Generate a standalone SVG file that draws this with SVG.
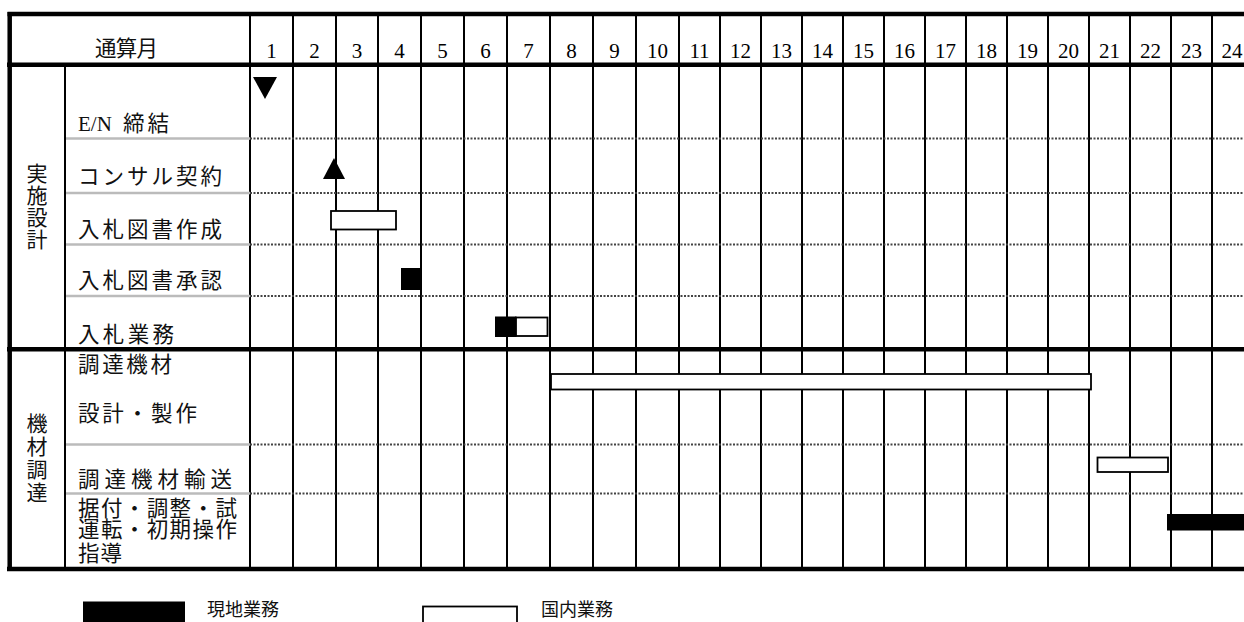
<svg xmlns="http://www.w3.org/2000/svg" width="1244" height="622" viewBox="0 0 1244 622">
<style>
.thick{stroke:#000;stroke-width:4.5;fill:none}
.vl{stroke:#000;stroke-width:2;fill:none}
.gl{stroke:#bbb;stroke-width:2.5;fill:none}
.dl{stroke:#444;stroke-width:2;stroke-dasharray:2 1.5;fill:none}
.num{font-family:"Liberation Serif","Times New Roman",serif;font-size:21px;text-anchor:middle;fill:#000}
.lab{font-family:"Noto Sans CJK JP","Noto Sans",sans-serif;font-size:21.5px;fill:#111}
.sec{font-family:"Noto Sans CJK JP","Noto Sans",sans-serif;font-size:21px;fill:#111;writing-mode:vertical-rl;text-orientation:upright}
.leg{font-family:"Noto Sans CJK JP","Noto Sans",sans-serif;font-size:18px;fill:#111}
.wbar{fill:#fff;stroke:#000;stroke-width:1.8}
.bbar{fill:#000;stroke:#000;stroke-width:1}
</style>
<rect x="0" y="0" width="1244" height="622" fill="#fff"/>
<g id="grid">
  <g id="verticals">
    <line class="vl" x1="65" y1="64" x2="65" y2="569"/>
    <line class="vl" x1="250" y1="14" x2="250" y2="569"/>
    <line class="vl" x1="293" y1="14" x2="293" y2="569"/>
    <line class="vl" x1="336" y1="14" x2="336" y2="569"/>
    <line class="vl" x1="378" y1="14" x2="378" y2="569"/>
    <line class="vl" x1="421" y1="14" x2="421" y2="569"/>
    <line class="vl" x1="464" y1="14" x2="464" y2="569"/>
    <line class="vl" x1="507" y1="14" x2="507" y2="569"/>
    <line class="vl" x1="550" y1="14" x2="550" y2="569"/>
    <line class="vl" x1="593" y1="14" x2="593" y2="569"/>
    <line class="vl" x1="636" y1="14" x2="636" y2="569"/>
    <line class="vl" x1="679" y1="14" x2="679" y2="569"/>
    <line class="vl" x1="720" y1="14" x2="720" y2="569"/>
    <line class="vl" x1="761" y1="14" x2="761" y2="569"/>
    <line class="vl" x1="802" y1="14" x2="802" y2="569"/>
    <line class="vl" x1="843" y1="14" x2="843" y2="569"/>
    <line class="vl" x1="884" y1="14" x2="884" y2="569"/>
    <line class="vl" x1="925" y1="14" x2="925" y2="569"/>
    <line class="vl" x1="966" y1="14" x2="966" y2="569"/>
    <line class="vl" x1="1007" y1="14" x2="1007" y2="569"/>
    <line class="vl" x1="1048" y1="14" x2="1048" y2="569"/>
    <line class="vl" x1="1089" y1="14" x2="1089" y2="569"/>
    <line class="vl" x1="1130" y1="14" x2="1130" y2="569"/>
    <line class="vl" x1="1171" y1="14" x2="1171" y2="569"/>
    <line class="vl" x1="1212" y1="14" x2="1212" y2="569"/>
  </g>
  <g id="rows">
    <line class="gl" x1="66" y1="138.5" x2="250" y2="138.5"/>
    <line class="dl" x1="250" y1="138.5" x2="1244" y2="138.5"/>
    <line class="gl" x1="66" y1="193" x2="250" y2="193"/>
    <line class="dl" x1="250" y1="193" x2="1244" y2="193"/>
    <line class="gl" x1="66" y1="244.5" x2="250" y2="244.5"/>
    <line class="dl" x1="250" y1="244.5" x2="1244" y2="244.5"/>
    <line class="gl" x1="66" y1="296" x2="250" y2="296"/>
    <line class="dl" x1="250" y1="296" x2="1244" y2="296"/>
    <line class="gl" x1="66" y1="444.5" x2="250" y2="444.5"/>
    <line class="dl" x1="250" y1="444.5" x2="1244" y2="444.5"/>
    <line class="gl" x1="66" y1="493.5" x2="250" y2="493.5"/>
    <line class="dl" x1="250" y1="493.5" x2="1244" y2="493.5"/>
  </g>
  <g id="frame">
    <line class="thick" x1="7.5" y1="14" x2="1244" y2="14"/>
    <line class="thick" x1="7" y1="64.7" x2="1244" y2="64.7"/>
    <line class="thick" x1="7" y1="349.3" x2="1244" y2="349.3"/>
    <line class="thick" x1="7" y1="569" x2="1244" y2="569"/>
    <line class="thick" x1="9.7" y1="12" x2="9.7" y2="571"/>
  </g>
</g>
<g id="header">
  <text class="lab" x="95" y="56" textLength="63" lengthAdjust="spacing">通算月</text>
  <text class="num" x="271.5" y="58">1</text>
  <text class="num" x="314.5" y="58">2</text>
  <text class="num" x="357" y="58">3</text>
  <text class="num" x="399.5" y="58">4</text>
  <text class="num" x="442.5" y="58">5</text>
  <text class="num" x="485.5" y="58">6</text>
  <text class="num" x="528.5" y="58">7</text>
  <text class="num" x="571.5" y="58">8</text>
  <text class="num" x="614.5" y="58">9</text>
  <text class="num" x="657.5" y="58">10</text>
  <text class="num" x="699.5" y="58">11</text>
  <text class="num" x="740.5" y="58">12</text>
  <text class="num" x="781.5" y="58">13</text>
  <text class="num" x="822.5" y="58">14</text>
  <text class="num" x="863.5" y="58">15</text>
  <text class="num" x="904.5" y="58">16</text>
  <text class="num" x="945.5" y="58">17</text>
  <text class="num" x="986.5" y="58">18</text>
  <text class="num" x="1027.5" y="58">19</text>
  <text class="num" x="1068.5" y="58">20</text>
  <text class="num" x="1109.5" y="58">21</text>
  <text class="num" x="1150.5" y="58">22</text>
  <text class="num" x="1191.5" y="58">23</text>
  <text class="num" x="1232" y="58">24</text>
</g>
<g id="section-jisshi">
  <text class="sec" x="37" y="163" letter-spacing="1">実施設計</text>
</g>
<g id="section-kizai">
  <text class="sec" x="37" y="413" letter-spacing="2">機材調達</text>
</g>
<g id="row-en">
  <text class="lab" x="78" y="131"><tspan font-family="Liberation Serif, serif" font-size="21">E/N</tspan></text>
  <text class="lab" x="123" y="131" textLength="46" lengthAdjust="spacing">締結</text>
  <polygon points="253,77 277,77 265,99" fill="#000"/>
</g>
<g id="row-consul">
  <text class="lab" x="78" y="184" textLength="144" lengthAdjust="spacing">コンサル契約</text>
  <polygon points="334,158 345,179 323,179" fill="#000"/>
</g>
<g id="row-sakusei">
  <text class="lab" x="78" y="237" textLength="144" lengthAdjust="spacing">入札図書作成</text>
  <rect class="wbar" x="331" y="211" width="65" height="18.5"/>
</g>
<g id="row-shonin">
  <text class="lab" x="78" y="288" textLength="144" lengthAdjust="spacing">入札図書承認</text>
  <rect class="bbar" x="401.5" y="268.5" width="19" height="21"/>
</g>
<g id="row-nyusatsu">
  <text class="lab" x="78" y="342" textLength="96" lengthAdjust="spacing">入札業務</text>
  <rect class="bbar" x="495.5" y="317" width="20.5" height="19.5"/>
  <rect class="wbar" x="516" y="317.5" width="31.5" height="18.5"/>
</g>
<g id="row-seisaku">
  <text class="lab" x="78" y="372" textLength="94" lengthAdjust="spacing">調達機材</text>
  <text class="lab" x="78" y="421" textLength="119" lengthAdjust="spacing">設計・製作</text>
  <rect class="wbar" x="551" y="374" width="540" height="15.5"/>
</g>
<g id="row-yuso">
  <text class="lab" x="78" y="487" textLength="154" lengthAdjust="spacing">調達機材輸送</text>
  <rect class="wbar" x="1097.5" y="457.5" width="70.5" height="14.5"/>
</g>
<g id="row-suetsuke">
  <text class="lab" letter-spacing="1.4"><tspan x="78" y="516">据付・調整・試</tspan><tspan x="78" y="537">運転・初期操作</tspan><tspan x="78" y="561" letter-spacing="1">指導</tspan></text>
  <rect class="bbar" x="1167.5" y="514.5" width="77" height="15.5"/>
</g>
<g id="legend">
  <rect x="83" y="601.5" width="102" height="21" fill="#000"/>
  <text class="leg" x="207" y="616">現地業務</text>
  <rect class="wbar" x="423" y="606.5" width="94" height="20"/>
  <text class="leg" x="541" y="616">国内業務</text>
</g>
</svg>
